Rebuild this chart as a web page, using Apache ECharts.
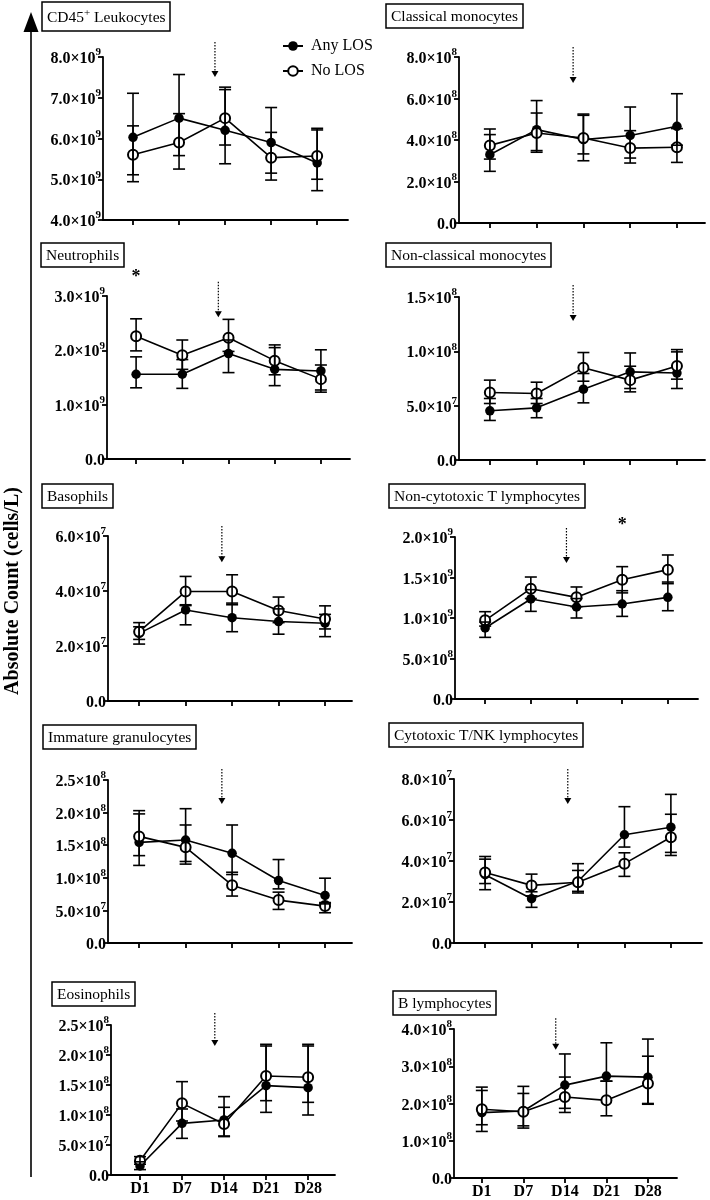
<!DOCTYPE html>
<html>
<head>
<meta charset="utf-8">
<script src="https://cdn.jsdelivr.net/npm/echarts@6/dist/echarts.min.js"></script>
<style>html,body{margin:0;padding:0;background:#fff}#c{width:710px;height:1200px}</style>
</head>
<body>
<div id="c"></div>
<script>
const categories = ['D1', 'D7', 'D14', 'D21', 'D28'];
const seriesNames = ['Any LOS', 'No LOS'];
const panelTitles = ['CD45+ Leukocytes', 'Classical monocytes', 'Neutrophils', 'Non-classical monocytes',
  'Basophils', 'Non-cytotoxic T lymphocytes', 'Immature granulocytes', 'Cytotoxic T/NK lymphocytes',
  'Eosinophils', 'B lymphocytes'];
const yAxisTicks = [ // [min, max, interval]
  [4e9, 8e9, 1e9], [0, 8e8, 2e8], [0, 3e9, 1e9], [0, 1.5e8, 5e7], [0, 6e7, 2e7],
  [0, 2e9, 5e8], [0, 2.5e8, 5e7], [0, 8e7, 2e7], [0, 2.5e8, 5e7], [0, 4e8, 1e8]];

// CD45+ leukocytes
const leukoAny = [6.03e9, 6.50e9, 6.20e9, 5.90e9, 5.40e9];
const leukoAnyLow = [5.11e9, 5.58e9, 5.38e9, 5.15e9, 4.72e9];
const leukoAnyHigh = [7.11e9, 7.57e9, 7.20e9, 6.76e9, 6.21e9];
const leukoNo = [5.60e9, 5.90e9, 6.50e9, 5.53e9, 5.57e9];
const leukoNoLow = [4.94e9, 5.25e9, 5.84e9, 4.98e9, 5.00e9];
const leukoNoHigh = [6.31e9, 6.61e9, 7.26e9, 6.15e9, 6.25e9];
// Classical monocytes
const classAny = [3.29e8, 4.50e8, 4.02e8, 4.22e8, 4.66e8];
const classAnyLow = [2.49e8, 3.41e8, 3.00e8, 3.13e8, 3.75e8];
const classAnyHigh = [4.26e8, 5.90e8, 5.25e8, 5.59e8, 6.23e8];
const classNo = [3.74e8, 4.34e8, 4.10e8, 3.61e8, 3.65e8];
const classNoLow = [3.08e8, 3.49e8, 3.33e8, 2.89e8, 2.92e8];
const classNoHigh = [4.53e8, 5.30e8, 5.19e8, 4.45e8, 4.55e8];
// Neutrophils
const neutAny = [1.56e9, 1.56e9, 1.94e9, 1.65e9, 1.62e9];
const neutAnyLow = [1.31e9, 1.30e9, 1.59e9, 1.35e9, 1.27e9];
const neutAnyHigh = [1.88e9, 1.83e9, 2.19e9, 2.05e9, 2.01e9];
const neutNo = [2.26e9, 1.91e9, 2.23e9, 1.81e9, 1.47e9];
const neutNoLow = [1.99e9, 1.65e9, 1.98e9, 1.55e9, 1.23e9];
const neutNoHigh = [2.58e9, 2.19e9, 2.57e9, 2.10e9, 1.73e9];
// Non-classical monocytes
const nonclassAny = [4.53e7, 4.80e7, 6.52e7, 8.11e7, 8.00e7];
const nonclassAnyLow = [3.64e7, 3.89e7, 5.26e7, 6.58e7, 6.58e7];
const nonclassAnyHigh = [5.66e7, 5.66e7, 7.96e7, 9.85e7, 9.95e7];
const nonclassNo = [6.21e7, 6.12e7, 8.48e7, 7.35e7, 8.66e7];
const nonclassNoLow = [5.20e7, 5.20e7, 7.25e7, 6.27e7, 7.44e7];
const nonclassNoHigh = [7.35e7, 7.16e7, 9.89e7, 8.63e7, 10.16e7];
// Basophils
const basoAny = [2.46e7, 3.31e7, 3.03e7, 2.89e7, 2.83e7];
const basoAnyLow = [2.07e7, 2.77e7, 2.52e7, 2.43e7, 2.34e7];
const basoAnyHigh = [2.70e7, 3.50e7, 3.56e7, 3.35e7, 3.15e7];
const basoNo = [2.52e7, 3.98e7, 3.98e7, 3.29e7, 2.98e7];
const basoNoLow = [2.24e7, 3.47e7, 3.50e7, 2.85e7, 2.62e7];
const basoNoHigh = [2.85e7, 4.53e7, 4.59e7, 3.78e7, 3.46e7];
// Non-cytotoxic T lymphocytes
const tcellAny = [0.877e9, 1.235e9, 1.136e9, 1.173e9, 1.255e9];
const tcellAnyLow = [0.761e9, 1.082e9, 1.00e9, 1.02e9, 1.09e9];
const tcellAnyHigh = [0.95e9, 1.35e9, 1.24e9, 1.337e9, 1.444e9];
const tcellNo = [0.971e9, 1.362e9, 1.255e9, 1.473e9, 1.597e9];
const tcellNoLow = [0.90e9, 1.24e9, 1.14e9, 1.31e9, 1.424e9];
const tcellNoHigh = [1.078e9, 1.506e9, 1.383e9, 1.634e9, 1.778e9];
// Immature granulocytes
const igAny = [1.543e8, 1.579e8, 1.375e8, 0.958e8, 0.729e8];
const igAnyLow = [1.19e8, 1.25e8, 1.05e8, 0.83e8, 0.60e8];
const igAnyHigh = [1.98e8, 2.06e8, 1.81e8, 1.28e8, 0.994e8];
const igNo = [1.635e8, 1.467e8, 0.887e8, 0.658e8, 0.566e8];
const igNoLow = [1.34e8, 1.21e8, 0.72e8, 0.515e8, 0.464e8];
const igNoHigh = [2.03e8, 1.81e8, 1.085e8, 0.78e8, 0.62e8];
// Cytotoxic T/NK lymphocytes
const nkAny = [3.33e7, 2.16e7, 3.01e7, 5.28e7, 5.65e7];
const nkAnyLow = [2.60e7, 1.74e7, 2.44e7, 4.68e7, 4.27e7];
const nkAnyHigh = [4.22e7, 2.50e7, 3.87e7, 6.65e7, 7.25e7];
const nkNo = [3.44e7, 2.81e7, 2.96e7, 3.87e7, 5.16e7];
const nkNoLow = [2.90e7, 2.30e7, 2.52e7, 3.25e7, 4.42e7];
const nkNoHigh = [4.09e7, 3.36e7, 3.54e7, 4.40e7, 6.28e7];
// Eosinophils
const eosAny = [0.15e8, 0.861e8, 0.917e8, 1.489e8, 1.456e8];
const eosAnyLow = [0.09e8, 0.611e8, 0.64e8, 1.044e8, 1.00e8];
const eosAnyHigh = [0.22e8, 1.10e8, 1.306e8, 2.15e8, 2.15e8];
const eosNo = [0.239e8, 1.194e8, 0.85e8, 1.65e8, 1.628e8];
const eosNoLow = [0.18e8, 0.90e8, 0.65e8, 1.239e8, 1.211e8];
const eosNoHigh = [0.306e8, 1.556e8, 1.128e8, 2.178e8, 2.178e8];
// B lymphocytes
const bcellAny = [1.755e8, 1.80e8, 2.494e8, 2.735e8, 2.708e8];
const bcellAnyLow = [1.25e8, 1.34e8, 1.87e8, 2.60e8, 1.98e8];
const bcellAnyHigh = [2.35e8, 2.46e8, 3.33e8, 3.63e8, 3.73e8];
const bcellNo = [1.844e8, 1.78e8, 2.174e8, 2.085e8, 2.539e8];
const bcellNoLow = [1.43e8, 1.40e8, 1.76e8, 1.67e8, 2.00e8];
const bcellNoHigh = [2.44e8, 2.27e8, 2.71e8, 2.60e8, 3.27e8];

// dotted arrow (between D7 and D14): x position (category index), top value, tip value
const arrowX = 1.78;
const arrowTop = [8.37e9, 8.48e8, 3.26e9, 1.61e8, 6.36e7, 2.11e9, 2.67e8, 8.49e7, 2.70e8, 4.29e8];
const arrowTip = [7.51e9, 6.75e8, 2.61e9, 1.28e8, 5.05e7, 1.68e9, 2.13e8, 6.78e7, 2.15e8, 3.44e8];
// significance stars: [panel, category index, value]
const stars = [[2, 0, 3.35e9], [5, 3, 2.15e9]];

const panelData = [
  [leukoAny, leukoAnyLow, leukoAnyHigh, leukoNo, leukoNoLow, leukoNoHigh],
  [classAny, classAnyLow, classAnyHigh, classNo, classNoLow, classNoHigh],
  [neutAny, neutAnyLow, neutAnyHigh, neutNo, neutNoLow, neutNoHigh],
  [nonclassAny, nonclassAnyLow, nonclassAnyHigh, nonclassNo, nonclassNoLow, nonclassNoHigh],
  [basoAny, basoAnyLow, basoAnyHigh, basoNo, basoNoLow, basoNoHigh],
  [tcellAny, tcellAnyLow, tcellAnyHigh, tcellNo, tcellNoLow, tcellNoHigh],
  [igAny, igAnyLow, igAnyHigh, igNo, igNoLow, igNoHigh],
  [nkAny, nkAnyLow, nkAnyHigh, nkNo, nkNoLow, nkNoHigh],
  [eosAny, eosAnyLow, eosAnyHigh, eosNo, eosNoLow, eosNoHigh],
  [bcellAny, bcellAnyLow, bcellAnyHigh, bcellNo, bcellNoLow, bcellNoHigh]
];

// ---- layout ----
const FF = 'Liberation Serif';
const gridBoxes = [ // left, top, width, height
  [103, 57, 245, 163], [459, 57, 246, 166],
  [107, 296, 243, 163], [459, 297, 246, 163],
  [108, 536, 244, 165], [455, 537, 243, 162],
  [108, 780, 244, 163], [454, 779, 248, 164],
  [111, 1025, 224, 150], [454, 1029, 223, 150]];
const xRanges = [[-0.652, 4.67], [-0.66, 4.6], [-0.63, 4.63], [-0.66, 4.6], [-0.67, 4.58],
  [-0.66, 4.66], [-0.67, 4.58], [-0.67, 4.67], [-0.69, 4.64], [-0.67, 4.7]];
const titlePos = [[42, 2], [386, 4], [41, 243], [386, 243], [42, 484], [389, 484],
  [43, 725], [389, 723], [52, 982], [393, 991]];

function yFmt(v) {
  if (Math.abs(v) < 1) return '{m|0.0}';
  const e = Math.floor(Math.log10(v) + 1e-9);
  const m = v / Math.pow(10, e);
  return '{m|' + m.toFixed(1) + '×10}{e|' + e + '}';
}

const axisLineStyle = { color: '#000', width: 1.8 };
const grids = [], xAxes = [], yAxes = [], series = [], titles = [];

function errRender(params, api) {
  const x = api.value(0);
  const pLo = api.coord([x, api.value(1)]);
  const pHi = api.coord([x, api.value(2)]);
  const w = 6;
  const st = { stroke: '#000', lineWidth: 1.6, fill: null };
  return {
    type: 'group', children: [
      { type: 'line', shape: { x1: pLo[0], y1: pLo[1], x2: pHi[0], y2: pHi[1] }, style: st },
      { type: 'line', shape: { x1: pLo[0] - w, y1: pLo[1], x2: pLo[0] + w, y2: pLo[1] }, style: st },
      { type: 'line', shape: { x1: pHi[0] - w, y1: pHi[1], x2: pHi[0] + w, y2: pHi[1] }, style: st }
    ]
  };
}
function arrowRender(params, api) {
  const x = api.value(0);
  const p1 = api.coord([x, api.value(1)]);
  const p2 = api.coord([x, api.value(2)]);
  return {
    type: 'group', children: [
      { type: 'line', shape: { x1: p1[0], y1: p1[1], x2: p2[0], y2: p2[1] - 5 },
        style: { stroke: '#000', lineWidth: 1.2, lineDash: [1.5, 1.5] } },
      { type: 'polygon', shape: { points: [[p2[0] - 3.5, p2[1] - 6], [p2[0] + 3.5, p2[1] - 6], [p2[0], p2[1]]] },
        style: { fill: '#000' } }
    ]
  };
}
function starRender(params, api) {
  const p = api.coord([api.value(0), api.value(1)]);
  return { type: 'text', x: p[0], y: p[1],
    style: { text: '*', fill: '#000', font: 'bold 18px ' + FF, textAlign: 'center', textVerticalAlign: 'middle' } };
}

panelData.forEach((d, i) => {
  const b = gridBoxes[i];
  const bottomRow = i >= 8;
  grids.push({ left: b[0], top: b[1], width: b[2], height: b[3], containLabel: false });
  xAxes.push({
    gridIndex: i, type: 'value', min: xRanges[i][0], max: xRanges[i][1],
    axisLine: { show: true, onZero: false, lineStyle: axisLineStyle },
    axisTick: { show: true, length: 5, customValues: [0, 1, 2, 3, 4], lineStyle: axisLineStyle },
    axisLabel: { show: bottomRow, customValues: [0, 1, 2, 3, 4], formatter: v => categories[Math.round(v)],
      fontFamily: FF, fontWeight: 'bold', fontSize: 16, color: '#000', margin: 6 },
    splitLine: { show: false }
  });
  const yt = yAxisTicks[i];
  yAxes.push({
    gridIndex: i, type: 'value', min: yt[0], max: yt[1], interval: yt[2],
    axisLine: { show: true, onZero: false, lineStyle: axisLineStyle },
    axisTick: { show: true, length: 5, lineStyle: axisLineStyle },
    axisLabel: { formatter: yFmt, margin: 2,
      rich: { m: { fontFamily: FF, fontWeight: 'bold', fontSize: 16, color: '#000', lineHeight: 20, verticalAlign: 'bottom' },
              e: { fontFamily: FF, fontWeight: 'bold', fontSize: 11, color: '#000', lineHeight: 11, verticalAlign: 'top' } } },
    splitLine: { show: false }
  });
  series.push({ type: 'line', name: seriesNames[0], xAxisIndex: i, yAxisIndex: i,
    data: d[0].map((v, j) => [j, v]), symbol: 'circle', symbolSize: 9.5,
    itemStyle: { color: '#000' }, lineStyle: { color: '#000', width: 1.6 }, z: 2, animation: false });
  series.push({ type: 'line', name: seriesNames[1], xAxisIndex: i, yAxisIndex: i,
    data: d[3].map((v, j) => [j, v]), symbol: 'emptyCircle', symbolSize: 10,
    itemStyle: { color: '#000', borderWidth: 1.6 }, lineStyle: { color: '#000', width: 1.6 }, z: 2, animation: false });
  series.push({ type: 'custom', xAxisIndex: i, yAxisIndex: i, renderItem: errRender, clip: false, z: 3, silent: true,
    encode: { x: 0, y: [1, 2] }, data: d[1].map((lo, j) => [j, lo, d[2][j]]), animation: false });
  series.push({ type: 'custom', xAxisIndex: i, yAxisIndex: i, renderItem: errRender, clip: false, z: 3, silent: true,
    encode: { x: 0, y: [1, 2] }, data: d[4].map((lo, j) => [j, lo, d[5][j]]), animation: false });
  series.push({ type: 'custom', xAxisIndex: i, yAxisIndex: i, renderItem: arrowRender, clip: false, z: 4, silent: true,
    encode: { x: 0, y: [1, 2] }, data: [[arrowX, arrowTop[i], arrowTip[i]]], animation: false });

  const t = panelTitles[i];
  const isCD = t.indexOf('CD45+') === 0;
  titles.push({
    text: isCD ? '{a|CD45}{s|+}{a| Leukocytes}' : t,
    left: titlePos[i][0], top: titlePos[i][1],
    borderColor: '#000', borderWidth: 1.5,
    padding: isCD ? [6, 5, 5, 5] : [4, 5, 3, 5],
    textStyle: { fontFamily: FF, fontSize: 15.5, fontWeight: 'normal', color: '#000', lineHeight: 17,
      rich: { a: { fontFamily: FF, fontSize: 15.5, color: '#000', lineHeight: 18, verticalAlign: 'bottom' },
              s: { fontFamily: FF, fontSize: 11, color: '#000', lineHeight: 11, verticalAlign: 'top' } } }
  });
});

stars.forEach(s => {
  series.push({ type: 'custom', xAxisIndex: s[0], yAxisIndex: s[0], renderItem: starRender, clip: false, z: 4,
    silent: true, encode: { x: 0, y: 1 }, data: [[s[1], s[2]]], animation: false });
});

const chart = echarts.init(document.getElementById('c'), null, { renderer: 'canvas' });
chart.setOption({
  backgroundColor: '#fff',
  animation: false,
  title: titles,
  legend: {
    data: seriesNames, left: 277, top: 33, orient: 'vertical', itemWidth: 20, itemHeight: 12, itemGap: 9,
    textStyle: { fontFamily: FF, fontSize: 16, color: '#000', padding: [0, 0, 0, 3] }
  },
  grid: grids, xAxis: xAxes, yAxis: yAxes, series: series,
  graphic: [
    { type: 'line', shape: { x1: 31, y1: 1177, x2: 31, y2: 28 }, style: { stroke: '#000', lineWidth: 1.6 } },
    { type: 'polygon', shape: { points: [[23.5, 32], [38.5, 32], [31, 12]] }, style: { fill: '#000' } },
    { type: 'text', x: 12.5, y: 591, rotation: Math.PI / 2,
      style: { text: 'Absolute Count (cells/L)', font: 'bold 20px ' + FF, fill: '#000',
        textAlign: 'center', textVerticalAlign: 'middle' } }
  ]
});
</script>
</body>
</html>
